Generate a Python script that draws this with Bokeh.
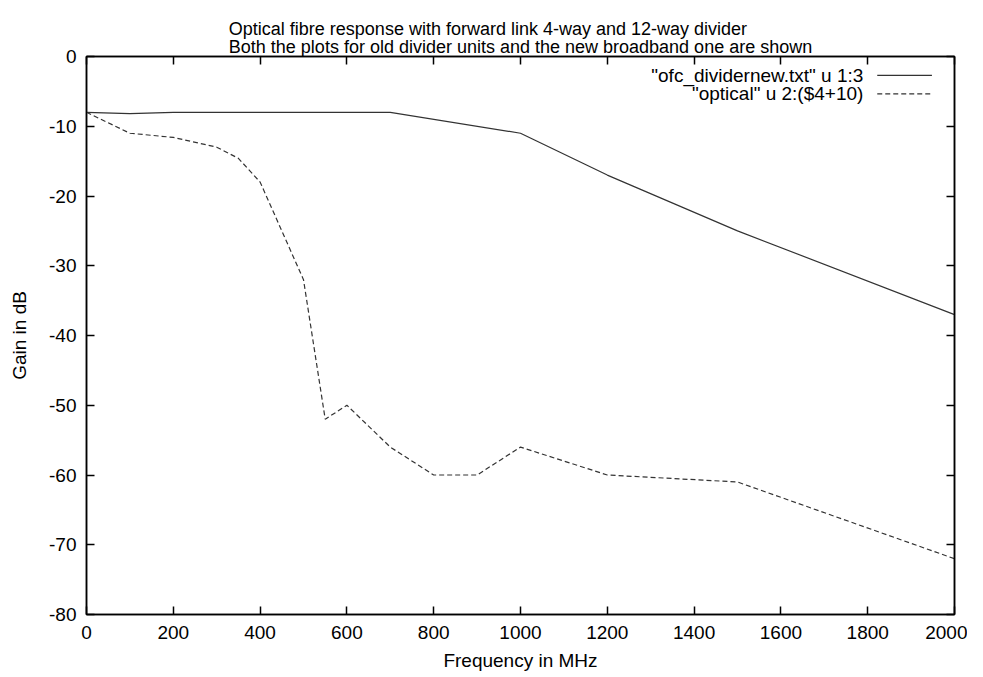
from bokeh.plotting import figure
from bokeh.models import Title, LinearAxis, FixedTicker, Range1d
from bokeh.core.properties import value
from bokeh.embed import file_html
from bokeh.resources import INLINE

# ---- data ----
new_freq = [0, 100, 200, 700, 1000, 1200, 1500, 2000]
new_gain = [-8, -8.2, -8, -8, -11, -17, -25, -37]

old_freq = [0, 100, 200, 300, 350, 400, 500, 550, 600, 700, 800, 900, 1000, 1200, 1500, 2000]
old_gain = [-8, -11, -11.6, -13, -14.6, -18, -32, -52, -50, -56, -60, -60, -56, -60, -61, -72]

x_ticks = [0, 200, 400, 600, 800, 1000, 1200, 1400, 1600, 1800, 2000]
y_ticks = [0, -10, -20, -30, -40, -50, -60, -70, -80]

title1 = "Optical fibre response with forward link 4-way and 12-way divider"
title2 = "Both the plots for old divider units and the new broadband one are shown"
legend_labels = ['"ofc_dividernew.txt" u 1:3', '"optical" u 2:($4+10)']

FONT = "Liberation Sans"
FS = "19px"
TFS = "18px"

p = figure(width=967, height=674, output_backend="svg", toolbar_location=None,
           x_range=Range1d(0, 2000), y_range=Range1d(-80, 0),
           min_border_left=86, min_border_right=13, min_border_top=56, min_border_bottom=60)

p.xgrid.visible = False
p.ygrid.visible = False
p.outline_line_color = "black"
p.outline_line_width = 1.5
p.background_fill_color = "white"
p.border_fill_color = "white"

xa = p.below[0]
ya = p.left[0]

for ax in (xa, ya):
    ax.major_tick_in = 8
    ax.major_tick_out = 0
    ax.minor_tick_line_color = None
    ax.major_label_text_font = FONT
    ax.major_label_text_font_size = FS
    ax.major_label_text_color = "black"
    ax.axis_label_text_font = FONT
    ax.axis_label_text_font_size = FS
    ax.axis_label_text_font_style = "normal"
    ax.axis_label_text_color = "black"
    ax.axis_line_width = 1.5
    ax.major_tick_line_width = 1.5

xa.ticker = FixedTicker(ticks=x_ticks)
ya.ticker = FixedTicker(ticks=y_ticks)
ya.major_label_overrides = {t: str(t) for t in y_ticks}
xa.axis_label = "Frequency in MHz"
ya.axis_label = "Gain in dB"
xa.major_label_standoff = 11
ya.major_label_standoff = 10
xa.axis_label_standoff = 8
ya.axis_label_standoff = 16

# mirror ticks (top / right); the top one also spaces the title away from the frame
for loc, tk, so in (("above", x_ticks, 16), ("right", y_ticks, 0)):
    m = LinearAxis(ticker=FixedTicker(ticks=tk), major_tick_in=8, major_tick_out=0,
                   minor_tick_line_color=None,
                   major_label_overrides={t: "" for t in tk},
                   major_label_standoff=so, axis_line_width=1.5, major_tick_line_width=1.5)
    p.add_layout(m, loc)

t = Title(text=title1 + "\n" + title2, align="center", text_font=FONT, text_font_size=TFS,
          text_font_style="normal", text_color="black", standoff=0, text_line_height=0.9)
p.add_layout(t, "above")

p.line(new_freq, new_gain, line_color="#333333", line_width=1.2)
p.line(old_freq, old_gain, line_color="#333333", line_width=1.2, line_dash="5 3")

# gnuplot-style key: label right-aligned, sample to its right
key_x_text = 1790
key_x0, key_x1 = 1822, 1948
key_y = [-2.7, -5.35]
dashes = ["solid", "5 3"]
for lab, yy, d in zip(legend_labels, key_y, dashes):
    p.text(x=[key_x_text], y=[yy], text=[lab], text_align="right", text_baseline="middle",
           text_font=value(FONT), text_font_size=FS, text_color="black")
    p.segment(x0=[key_x0], y0=[yy], x1=[key_x1], y1=[yy], line_color="#333333",
              line_width=1.2, line_dash=d)

open("out.html", "w").write(file_html(p, INLINE))
